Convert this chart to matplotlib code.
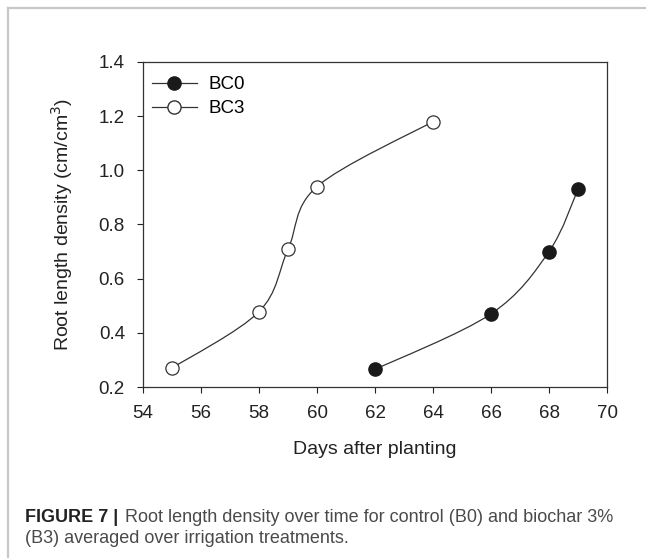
#!/usr/bin/env python3
"""
Root length density over time (Figure 7) - BC0 vs BC3
"""

import numpy as np
import matplotlib
matplotlib.use("Agg")
import matplotlib.pyplot as plt
from matplotlib.path import Path
from matplotlib.patches import PathPatch
from matplotlib.lines import Line2D

plt.rcParams['font.family'] = ['Liberation Sans', 'DejaVu Sans']

# Data
bc0_days = [62, 66, 68, 69]
bc0_rld = [0.265, 0.47, 0.70, 0.93]
bc3_days = [55, 58, 59, 60, 64]
bc3_rld = [0.27, 0.478, 0.708, 0.94, 1.18]

x_ticks = [54, 56, 58, 60, 62, 64, 66, 68, 70]
y_ticks = [0.2, 0.4, 0.6, 0.8, 1.0, 1.2, 1.4]

W, H = 646, 558
fig = plt.figure(figsize=(W / 100, H / 100), dpi=100)
ax = fig.add_axes([143 / W, 1 - 387 / H, (607 - 143) / W, (387 - 62) / H])

ax.set_xlim(54, 70)
ax.set_ylim(0.2, 1.4)
ax.set_xticks(x_ticks)
ax.set_yticks(y_ticks)
ax.set_xticklabels([str(t) for t in x_ticks])
ax.set_yticklabels([f"{t:.1f}" for t in y_ticks])
ax.tick_params(direction='out', length=4.5, width=0.8, labelsize=13.5,
               colors='#222222', pad=8.5)
for s in ax.spines.values():
    s.set_linewidth(0.9)
    s.set_color('#333333')

ax.set_xlabel('Days after planting', fontsize=14, color='#222222', labelpad=14)
ax.set_ylabel('Root length density (cm/cm$^3$)', fontsize=14, color='#222222',
              labelpad=17)


def smooth_curve(ax, xs, ys, **kw):
    """Catmull-Rom curve through the points, built in screen space"""
    pts = ax.transData.transform(np.column_stack([xs, ys]))
    n = len(pts)
    verts = [pts[0]]
    codes = [Path.MOVETO]
    for i in range(n - 1):
        p0 = pts[max(i - 1, 0)]
        p1 = pts[i]
        p2 = pts[i + 1]
        p3 = pts[min(i + 2, n - 1)]
        c1 = p1 + (p2 - p0) / 6.0
        c2 = p2 - (p3 - p1) / 6.0
        verts += [c1, c2, p2]
        codes += [Path.CURVE4] * 3
    verts = ax.transData.inverted().transform(np.array(verts))
    ax.add_patch(PathPatch(Path(verts, codes), fill=False, **kw))


line_kw = dict(color='#333333', linewidth=0.9, zorder=2)
smooth_curve(ax, bc0_days, bc0_rld, **line_kw)
smooth_curve(ax, bc3_days, bc3_rld, **line_kw)

ax.plot(bc0_days, bc0_rld, linestyle='none', marker='o', markersize=9.5,
        markerfacecolor='#1a1a1a', markeredgecolor='#1a1a1a', zorder=3)
ax.plot(bc3_days, bc3_rld, linestyle='none', marker='o', markersize=9.5,
        markerfacecolor='white', markeredgecolor='#333333',
        markeredgewidth=0.9, zorder=3)

handles = [
    Line2D([], [], color='#333333', lw=0.9, marker='o', markersize=9.5,
           markerfacecolor='#1a1a1a', markeredgecolor='#1a1a1a'),
    Line2D([], [], color='#333333', lw=0.9, marker='o', markersize=9.5,
           markerfacecolor='white', markeredgecolor='#333333'),
]
ax.legend(handles, ['BC0', 'BC3'], loc='upper left', frameon=False,
          fontsize=13.5, handlelength=2.4, handletextpad=0.64,
          labelspacing=0.37, borderaxespad=0.0,
          bbox_to_anchor=(0.003, 0.98))

# outer frame: top and left gray lines
fig.add_artist(Line2D([8 / W, 1.0], [1 - 8 / H, 1 - 8 / H], color='#c8c8c8',
                      lw=1.6, transform=fig.transFigure))
fig.add_artist(Line2D([8 / W, 8 / W], [0.0, 1 - 8 / H], color='#c8c8c8',
                      lw=1.6, transform=fig.transFigure))

# caption
cap_size = 13
t1 = fig.text(25 / W, 1 - 522 / H, 'FIGURE 7 |', fontsize=cap_size,
              fontweight='bold', color='#222222', va='baseline')
fig.canvas.draw()
bb = t1.get_window_extent()
fig.text(bb.x1 / W + 7 / W, 1 - 522 / H,
         'Root length density over time for control (B0) and biochar 3%',
         fontsize=cap_size, color='#4a4a4a', va='baseline')
fig.text(25 / W, 1 - 543 / H, '(B3) averaged over irrigation treatments.',
         fontsize=cap_size, color='#4a4a4a', va='baseline')

fig.savefig('out.png', dpi=100)
